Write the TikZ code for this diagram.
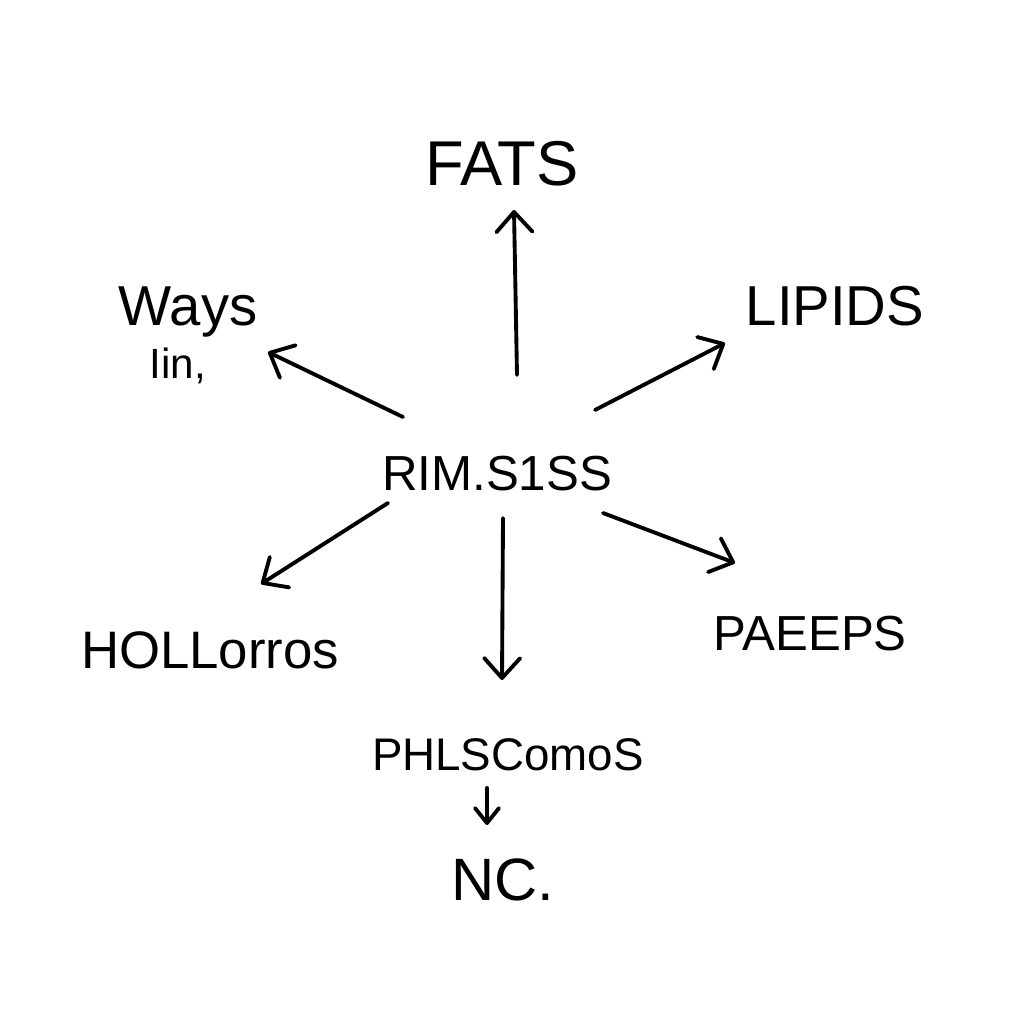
\documentclass[tikz,border=0pt]{standalone}
\usepackage{fontspec}
\setmainfont{Liberation Sans}
\usetikzlibrary{arrows.meta,calc}
\begin{document}
\begin{tikzpicture}[x=0.01cm,y=-0.01cm,>={Straight Barb[length=2mm,width=3.6mm,round]},line width=1.1pt,line cap=round]
	\tikzset{nhan/.style={anchor=base,inner sep=0pt},
		co/.style={font=\fontsize{#1}{#1}\selectfont}}
	\useasboundingbox[fill=white] (0,0) rectangle (1024,1024);
	
	% Các nhãn (Nodes)
	\path (497,490) node[nhan,co=14] (core) {RIM.S1SS}
	(502,185) node[nhan,co=18] (fats) {FATS}
	(188,325) node[nhan,co=16] (ways) {Ways}
	(178,378) node[nhan,co=12] (iin) {Iin,}
	(835,325) node[nhan,co=16] (lipids) {LIPIDS}
	(210,668) node[nhan,co=15] (hol) {HOLLorros}
	(810,650) node[nhan,co=14] (paeeps) {PAEEPS}
	(508,770) node[nhan,co=13] (phl) {PHLSComoS}
	(503,900) node[nhan,co=17] (nc) {NC.};
	
	% Các mũi tên từ tâm
	\draw[->] ($(core.base)+(20,-115)$) -- ($(fats.base)+(12,25)$);
	\draw[->] ($(core.base)+(-94,-73)$) -- ($(ways.base)+(80,27)$);
	\draw[->] ($(core.base)+(98,-80)$) -- ($(lipids.base)+(-110,18)$);
	\draw[->] ($(core.base)+(-109,13)$) -- ($(hol.base)+(51,-84)$);
	\draw[->] ($(core.base)+(6,28)$) -- ($(phl.base)+(-6,-90)$);
	\draw[->] ($(core.base)+(106,23)$) -- ($(paeeps.base)+(-75,-87)$);
	
	% Mũi tên nhỏ
	\draw[-{Straight Barb[length=1.5mm,width=2.4mm,round]}] ($(phl.base)+(-21,18)$) -- ($(nc.base)+(-16,-75)$);
\end{tikzpicture}
\end{document}
